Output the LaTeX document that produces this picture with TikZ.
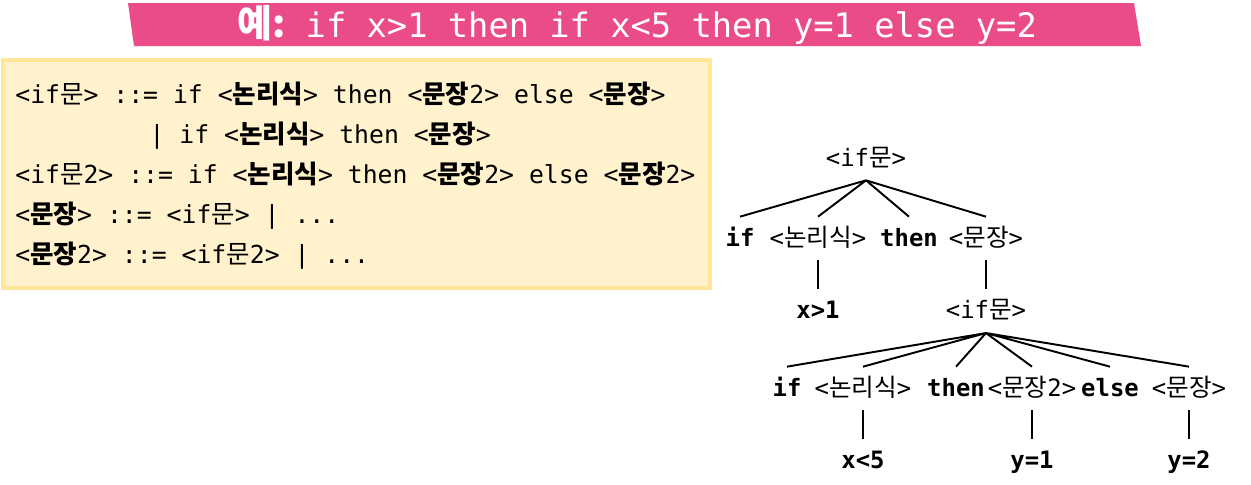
\documentclass[tikz,border=0pt]{standalone}
\usepackage{fontspec}
\setmonofont{DejaVu Sans Mono}
\newfontfamily\krfont[Scale=1.03]{Noto Sans CJK KR}
\newcommand{\kr}[1]{{\krfont #1}}
\newcommand{\krb}[1]{{\krfont\bfseries #1}}
\usetikzlibrary{positioning}
\definecolor{bannerpink}{RGB}{233,76,137}
\definecolor{boxfill}{RGB}{255,242,204}
\definecolor{boxline}{RGB}{255,230,153}

\begin{document}
\begin{tikzpicture}[
        x=0.02cm, y=-0.02cm,
        node distance=0.58cm,
        rule/.style={anchor=base west, inner sep=0pt, font=\ttfamily\fontsize{14.1}{16}\selectfont},
        sym/.style={anchor=base, inner xsep=0pt, inner ysep=0.12cm, text height=0.46cm, text depth=0.16cm, font=\ttfamily\fontsize{13.6}{16}\selectfont},
        kw/.style={sym, font=\ttfamily\bfseries\fontsize{13.6}{16}\selectfont},
        branch/.style={line width=1.1pt}
    ]
        \useasboundingbox (0,0) rectangle (1251,484);

        % title banner
        \fill[bannerpink] (128,3) -- (1134,3) -- (1141,46) -- (134,46) -- cycle;
        \node[text=white, font=\ttfamily\fontsize{19.2}{22}\selectfont] (title) at (637,25) {\krb{\fontsize{21}{22}\selectfont 예:} if x>1 then if x<5 then y=1 else y=2};

        % grammar box
        \draw[draw=boxline, fill=boxfill, line width=0.08cm] (3,60) rectangle (710,288);
        \node[rule] (rule1) at (15,103) {<if\kr{문}> ::= if <\krb{논리식}> then <\krb{문장}2> else <\krb{문장}>};
        \node[rule] (rule2) at (15,143) {\ \ \ \ \ \ \ \ \ | if <\krb{논리식}> then <\krb{문장}>};
        \node[rule] (rule3) at (15,183) {<if\kr{문}2> ::= if <\krb{논리식}> then <\krb{문장}2> else <\krb{문장}2>};
        \node[rule] (rule4) at (15,223) {<\krb{문장}> ::= <if\kr{문}> | ...};
        \node[rule] (rule5) at (15,263) {<\krb{문장}2> ::= <if\kr{문}2> | ...};

        % parse tree, outer if
        \node[sym] (ifs1) at (866,166) {<if\kr{문}>};
        \node[kw] (if1) at (740,246) {if};
        \node[sym] (cond1) at (818,246) {<\kr{논리식}>};
        \node[kw] (then1) at (909,246) {then};
        \node[sym] (stmt1) at (986,246) {<\kr{문장}>};
        \node[kw, below=of cond1] (x1) {x>1};
        \node[sym, below=of stmt1] (ifs2) {<if\kr{문}>};

        % inner if
        \node[kw] (if2) at (787,396) {if};
        \node[sym] (cond2) at (863,396) {<\kr{논리식}>};
        \node[kw] (then2) at (956,396) {then};
        \node[sym] (stmt2) at (1032,396) {<\kr{문장}2>};
        \node[kw] (else2) at (1110,396) {else};
        \node[sym] (stmt3) at (1189,396) {<\kr{문장}>};
        \node[kw, below=of cond2] (x5) {x<5};
        \node[kw, below=of stmt2] (y1) {y=1};
        \node[kw, below=of stmt3] (y2) {y=2};

        \draw[branch] (ifs1.south) -- (if1.north) (ifs1.south) -- (cond1.north)
            (ifs1.south) -- (then1.north) (ifs1.south) -- (stmt1.north);
        \draw[branch] (cond1) -- (x1) (stmt1) -- (ifs2);
        \draw[branch] (ifs2.south) -- (if2.north) (ifs2.south) -- (cond2.north)
            (ifs2.south) -- (then2.north) (ifs2.south) -- (stmt2.north)
            (ifs2.south) -- (else2.north) (ifs2.south) -- (stmt3.north);
        \draw[branch] (cond2) -- (x5) (stmt2) -- (y1) (stmt3) -- (y2);
    \end{tikzpicture}
\end{document}
